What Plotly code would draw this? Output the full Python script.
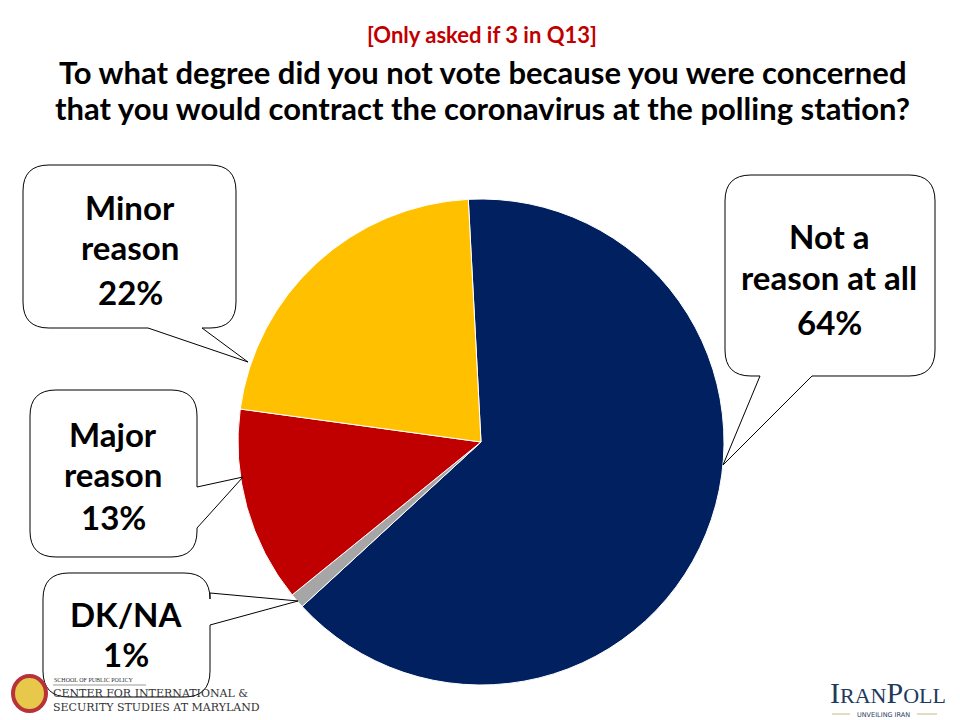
import plotly.graph_objects as go

W, H = 960, 720

# ---- data ----
categories = ["Not a reason at all", "DK/NA", "Major reason", "Minor reason"]
values = [64, 1, 13, 22]
colors = ["#002060", "#A6A6A6", "#C00000", "#FFC000"]
label_lines = [["Not a", "reason at all", "64%"], ["DK/NA", "1%"],
               ["Major", "reason", "13%"], ["Minor", "reason", "22%"]]

subtitle = "[Only asked if 3 in Q13]"
title_lines = ["To what degree did you not vote because you were concerned",
               "that you would contract the coronavirus at the polling station?"]

FONT = "Lato"


def fx(x):
    return x / W


def fy(y):
    return 1 - y / H


def P(x, y):
    return f"{fx(x):.5f},{fy(y):.5f}"


def callout(x0, y0, x1, y1, r, side, a, b, tip):
    s = [f"M {P(x0 + r, y0)}", f"L {P(x1 - r, y0)}", f"Q {P(x1, y0)} {P(x1, y0 + r)}"]
    if side == "right":
        s += [f"L {P(x1, a)}", f"L {P(*tip)}", f"L {P(x1, b)}"]
    s += [f"L {P(x1, y1 - r)}", f"Q {P(x1, y1)} {P(x1 - r, y1)}"]
    if side == "bottom":
        s += [f"L {P(b, y1)}", f"L {P(*tip)}", f"L {P(a, y1)}"]
    s += [f"L {P(x0 + r, y1)}", f"Q {P(x0, y1)} {P(x0, y1 - r)}",
          f"L {P(x0, y0 + r)}", f"Q {P(x0, y0)} {P(x0 + r, y0)}", "Z"]
    return " ".join(s)


cx, cy, R = 481, 442, 243

fig = go.Figure(go.Pie(
    labels=categories, values=values, sort=False, direction="clockwise",
    rotation=-3, marker=dict(colors=colors, line=dict(color="white", width=1)),
    textinfo="none", showlegend=False, hole=0,
    domain=dict(x=[fx(cx - R), fx(cx + R)], y=[fy(cy + R), fy(cy - R)]),
))

# callout boxes: (box x0,y0,x1,y1, side, base a, base b, tip, text center x, line ys)
callouts = [
    (725, 175, 935, 376, "bottom", 760, 812, (723, 465), 829, [236, 277, 322]),
    (43, 573, 210, 697, "right", 593, 625, (298, 601), 126, [614, 654]),
    (30, 390, 197, 557, "right", 487, 528, (243, 477), 113, [434, 474, 517]),
    (23, 165, 236, 328, "bottom", 148, 202, (248, 362), 130, [207, 247, 292]),
]

shapes = []
annotations = []
for (x0, y0, x1, y1, side, a, b, tip, tx, tys), lines in zip(callouts, label_lines):
    shapes.append(dict(type="path", path=callout(x0, y0, x1, y1, 26, side, a, b, tip),
                       xref="paper", yref="paper", fillcolor="white",
                       line=dict(color="black", width=1), layer="above"))
    for t, ty in zip(lines, tys):
        annotations.append(dict(text=f"<b>{t}</b>", x=fx(tx), y=fy(ty), xref="paper", yref="paper",
                                xanchor="center", yanchor="middle", showarrow=False,
                                font=dict(family=FONT, size=33, color="black")))

annotations.append(dict(text=f"<b>{subtitle}</b>", x=fx(482), y=fy(34), xref="paper", yref="paper",
                        xanchor="center", yanchor="middle", showarrow=False,
                        font=dict(family=FONT, size=22, color="#C00000")))
for t, ty in zip(title_lines, [72, 108]):
    annotations.append(dict(text=f"<b>{t}</b>", x=fx(482), y=fy(ty), xref="paper", yref="paper",
                            xanchor="center", yanchor="middle", showarrow=False,
                            font=dict(family=FONT, size=31, color="black")))

# logos (text approximations)
shapes.append(dict(type="circle", xref="paper", yref="paper",
                   x0=fx(13), x1=fx(46), y0=fy(711), y1=fy(676),
                   fillcolor="#E8C84A", line=dict(color="#B8323A", width=4)))
annotations.append(dict(text="SCHOOL OF PUBLIC POLICY", x=fx(52), y=fy(680), xref="paper", yref="paper",
                        xanchor="left", yanchor="middle", showarrow=False,
                        font=dict(family="Liberation Serif", size=6, color="#333333")))
annotations.append(dict(text="CENTER FOR INTERNATIONAL &<br>SECURITY STUDIES AT MARYLAND",
                        x=fx(51), y=fy(700), xref="paper", yref="paper", align="left",
                        xanchor="left", yanchor="middle", showarrow=False,
                        font=dict(family="DejaVu Serif", size=11, color="#333333")))
shapes.append(dict(type="line", xref="paper", yref="paper", x0=fx(53), x1=fx(146),
                   y0=fy(685), y1=fy(685), line=dict(color="#999999", width=1)))

annotations.append(dict(text="I<span style='font-size:22px'>RAN</span>P<span style='font-size:22px'>OLL</span>",
                        x=fx(888), y=fy(692), xref="paper", yref="paper",
                        xanchor="center", yanchor="middle", showarrow=False,
                        font=dict(family="Liberation Serif", size=30, color="#1F3A5C")))
annotations.append(dict(text="UNVEILING IRAN", x=fx(883), y=fy(715), xref="paper", yref="paper",
                        xanchor="center", yanchor="middle", showarrow=False,
                        font=dict(family="DejaVu Sans", size=6.5, color="#1F3A5C")))
for xa, xb in [(832, 850), (917, 937)]:
    shapes.append(dict(type="line", xref="paper", yref="paper", x0=fx(xa), x1=fx(xb),
                       y0=fy(714), y1=fy(714), line=dict(color="#C9B68A", width=1)))

fig.update_layout(width=W, height=H, margin=dict(l=0, r=0, t=0, b=0),
                  paper_bgcolor="white", plot_bgcolor="white",
                  shapes=shapes, annotations=annotations)

fig.write_html("out.html", config={"displayModeBar": False},
               post_script="document.body.style.margin='0';document.body.style.overflow='hidden';")
